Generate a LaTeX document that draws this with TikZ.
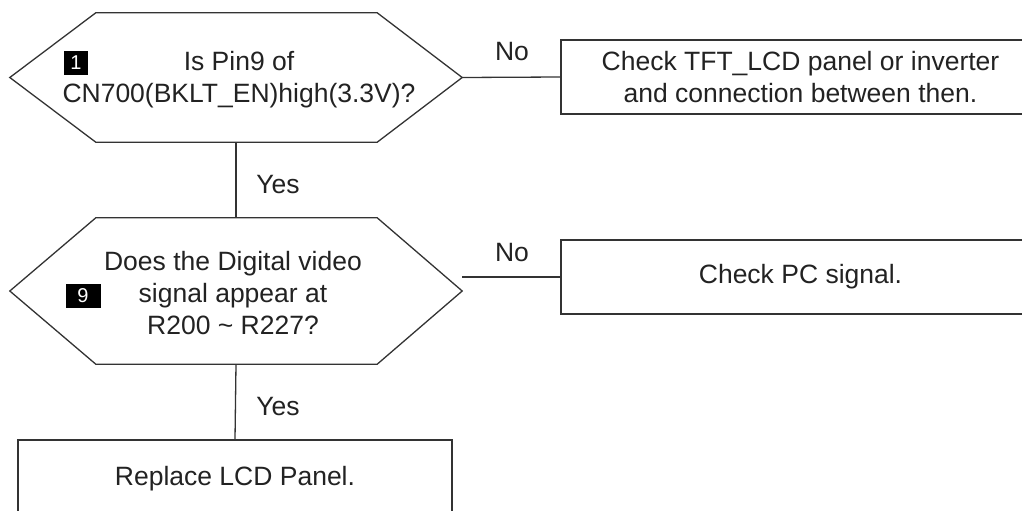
\documentclass[tikz,border=0pt]{standalone}
\usepackage{fontspec}
\setmainfont{Liberation Sans}
\usetikzlibrary{calc}
\definecolor{ink}{HTML}{222222}
\definecolor{linec}{HTML}{333333}
\begin{document}
\begin{tikzpicture}[x=1pt,y=-1pt,
  every node/.style={text=ink, font=\fontsize{26.5}{32}\selectfont, inner sep=0pt},
  shapebox/.style={draw=none, minimum width=#1},
  frame/.style={draw=linec, line width=1.3pt},
  conn/.style={draw=linec, line width=1.3pt},
  badge/.style={fill=black, text=white, font=\fontsize{20}{20}\selectfont, minimum height=24pt},
  lbl/.style={}]
\useasboundingbox (0,0) rectangle (1022,511);
\clip (0,0) rectangle (1022,511);
% hexagon 1
\node[minimum width=452pt, minimum height=129pt] (h1) at (236,77.5) {};
\draw[frame] (h1.west) -- ($(h1.north west)+(86,0)$) -- ($(h1.north east)+(-85,0)$) -- (h1.east)
  -- ($(h1.south east)+(-85,0)$) -- ($(h1.south west)+(86,0)$) -- cycle;
\node[align=center] (t1) at (239,80) {Is Pin9 of\\CN700(BKLT\_EN)high(3.3V)?};
\node[badge, minimum width=24pt] (b1) at (76,63) {1};
% hexagon 2
\node[minimum width=452pt, minimum height=146pt] (h2) at (236,291) {};
\draw[frame] (h2.west) -- ($(h2.north west)+(86,0)$) -- ($(h2.north east)+(-85,0)$) -- (h2.east)
  -- ($(h2.south east)+(-85,0)$) -- ($(h2.south west)+(86,0)$) -- cycle;
\node[align=center] (t2) at (233,293) {Does the Digital video\\signal appear at\\R200 \textasciitilde{} R227?};
\node[badge, minimum width=35pt] (b2) at (83,296) {9};
% boxes
\node[frame, minimum width=479pt, minimum height=74pt, align=center] (c1) at (800.5,77) {Check TFT\_LCD panel or inverter\\and connection between then.};
\node[frame, minimum width=479pt, minimum height=74pt] (c2) at (800.5,277) {Check PC signal.};
\node[frame, minimum width=434pt, minimum height=78pt] (c3) at (235,479) {Replace LCD Panel.};
% connectors
\coordinate (n2) at ($(h2.east)+(0,-14)$);
\draw[conn] (h1.east) -- (c1.west);
\draw[conn] (n2) -- (c2.west);
\draw[conn] (h1.south) -- (h2.north);
\draw[conn] (h2.south) -- (c3.north);
% labels
\node[lbl] (no1) at (512,52) {No};
\node[lbl] (no2) at (512,253) {No};
\node[lbl] (y1) at (278,185) {Yes};
\node[lbl] (y2) at (278,407) {Yes};
\end{tikzpicture}
\end{document}
